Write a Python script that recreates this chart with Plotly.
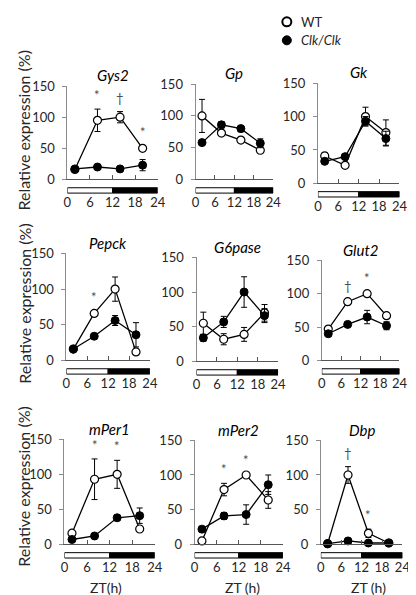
import plotly.graph_objects as go

W, H = 416, 595

# ---------------- data ----------------
zt = [2, 8, 14, 20]
x_ticks = [0, 6, 12, 18, 24]
x_ticklabels = ["0", "6", "12", "18", "24"]
y_ticks = [0, 50, 100, 150]
y_ticklabels = ["0", "50", "100", "150"]
light_phase = [0, 12]
dark_phase = [12, 24]

genes = ["Gys2", "Gp", "Gk", "Pepck", "G6pase", "Glut2", "mPer1", "mPer2", "Dbp"]
legend_labels = ["WT", "<i>Clk/Clk</i>"]

gys2_wt = [16, 95, 100, 50]
gys2_wt_err = [2, 18, 9, 4]
gys2_clk = [17, 20, 17, 23]
gys2_clk_err = [2, 2, 2, 9]
gys2_sig = ["", "*", "†", "*"]

gp_wt = [100, 73, 62, 46]
gp_wt_err = [26, 4, 4, 2]
gp_clk = [58, 86, 80, 57]
gp_clk_err = [3, 5, 5, 7]
gp_sig = ["", "", "", ""]

gk_wt = [41, 27, 100, 76]
gk_wt_err = [5, 2, 14, 19]
gk_clk = [33, 40, 93, 67]
gk_clk_err = [3, 3, 7, 11]
gk_sig = ["", "", "", ""]

pepck_wt = [16, 66, 100, 12]
pepck_wt_err = [2, 3, 17, 2]
pepck_clk = [16, 34, 56, 36]
pepck_clk_err = [2, 2, 7, 17]
pepck_sig = ["", "*", "", ""]

g6pase_wt = [55, 32, 39, 70]
g6pase_wt_err = [16, 8, 10, 12]
g6pase_clk = [34, 57, 100, 66]
g6pase_clk_err = [5, 8, 22, 10]
g6pase_sig = ["", "", "", ""]

glut2_wt = [47, 88, 100, 67]
glut2_wt_err = [4, 2, 2, 4]
glut2_clk = [40, 54, 65, 52]
glut2_clk_err = [2, 3, 10, 6]
glut2_sig = ["", "†", "*", ""]

mper1_wt = [16, 93, 100, 22]
mper1_wt_err = [3, 29, 20, 2]
mper1_clk = [7, 12, 38, 41]
mper1_clk_err = [1, 1, 4, 11]
mper1_sig = ["", "*", "*", ""]

mper2_wt = [5, 79, 100, 64]
mper2_wt_err = [1, 9, 1, 12]
mper2_clk = [22, 41, 43, 86]
mper2_clk_err = [1, 5, 14, 14]
mper2_sig = ["", "*", "*", ""]

dbp_wt = [1, 100, 16, 2]
dbp_wt_err = [0, 12, 6, 1]
dbp_clk = [1, 5, 2, 2]
dbp_clk_err = [0, 2, 0, 0]
dbp_sig = ["", "†", "*", ""]

series = {
    "Gys2": (gys2_wt, gys2_wt_err, gys2_clk, gys2_clk_err, gys2_sig),
    "Gp": (gp_wt, gp_wt_err, gp_clk, gp_clk_err, gp_sig),
    "Gk": (gk_wt, gk_wt_err, gk_clk, gk_clk_err, gk_sig),
    "Pepck": (pepck_wt, pepck_wt_err, pepck_clk, pepck_clk_err, pepck_sig),
    "G6pase": (g6pase_wt, g6pase_wt_err, g6pase_clk, g6pase_clk_err, g6pase_sig),
    "Glut2": (glut2_wt, glut2_wt_err, glut2_clk, glut2_clk_err, glut2_sig),
    "mPer1": (mper1_wt, mper1_wt_err, mper1_clk, mper1_clk_err, mper1_sig),
    "mPer2": (mper2_wt, mper2_wt_err, mper2_clk, mper2_clk_err, mper2_sig),
    "Dbp": (dbp_wt, dbp_wt_err, dbp_clk, dbp_clk_err, dbp_sig),
}

# ---------------- layout (pixel boxes of each panel) ----------------
boxes = {
    "Gys2": ((57, 150), (72, 168)),
    "Gp": ((189, 269), (70, 168)),
    "Gk": ((315, 399), (69, 172)),
    "Pepck": ((56, 142), (244, 354)),
    "G6pase": ((190, 274), (248, 355)),
    "Glut2": ((319, 399), (251, 354)),
    "mPer1": ((54, 147), (435, 543)),
    "mPer2": ((188, 279), (436, 543)),
    "Dbp": ((318, 402), (436, 543)),
}

FONT = "Lato, 'Open Sans', sans-serif"
AXIS_GREY = "#8c8c8c"
TXT = "#262626"

fig = go.Figure()
layout = dict(
    width=W, height=H,
    margin=dict(l=0, r=0, t=0, b=0),
    paper_bgcolor="white", plot_bgcolor="white",
    font=dict(family=FONT, color=TXT, size=13),
    showlegend=False,
)
annotations = []
shapes = []

for i, g in enumerate(genes):
    n = "" if i == 0 else str(i + 1)
    xa, ya = "x" + n, "y" + n
    (px0, px1), (py0, py1) = boxes[g]
    layout["xaxis" + n] = dict(
        domain=[px0 / W, px1 / W], range=[0, 24], anchor=ya,
        tickvals=x_ticks, ticktext=x_ticklabels,
        ticks="inside", ticklen=4, tickcolor="#555555", tickwidth=1,
        showline=True, linecolor="#555555", linewidth=1,
        showgrid=False, zeroline=False, ticklabelstandoff=11,
        tickfont=dict(size=13, color=TXT), fixedrange=True,
    )
    layout["yaxis" + n] = dict(
        domain=[1 - py1 / H, 1 - py0 / H], range=[0, 150], anchor=xa,
        tickvals=y_ticks, ticktext=y_ticklabels,
        ticks="outside", ticklen=4, tickcolor=AXIS_GREY, tickwidth=1,
        showline=True, linecolor=AXIS_GREY, linewidth=1,
        showgrid=False, zeroline=False, ticklabelstandoff=5,
        tickfont=dict(size=13, color=TXT), fixedrange=True,
    )
    wt, wt_err, clk, clk_err, sig = series[g]
    fig.add_trace(go.Scatter(
        x=zt, y=wt, xaxis=xa, yaxis=ya, mode="lines+markers",
        line=dict(color="black", width=1.3),
        marker=dict(symbol="circle", size=8, color="white",
                    line=dict(color="black", width=1.2)),
        error_y=dict(type="data", array=wt_err, symmetric=True,
                     color="black", thickness=1, width=3),
        cliponaxis=False, name="WT",
    ))
    fig.add_trace(go.Scatter(
        x=zt, y=clk, xaxis=xa, yaxis=ya, mode="lines+markers",
        line=dict(color="black", width=1.3),
        marker=dict(symbol="circle", size=8, color="black",
                    line=dict(color="black", width=1)),
        error_y=dict(type="data", array=clk_err, symmetric=True,
                     color="black", thickness=1, width=3),
        cliponaxis=False, name="Clk/Clk",
    ))
    # light/dark bar under the x axis
    for ph, fill in ((light_phase, "white"), (dark_phase, "black")):
        shapes.append(dict(
            type="rect", xref=xa, yref="paper", x0=ph[0], x1=ph[1],
            y0=1 - (py1 + 8.5) / H, y1=1 - (py1 + 14) / H,
            fillcolor=fill, line=dict(color="black", width=1),
        ))
    # significance marks
    for xv, yv, e, s in zip(zt, wt, wt_err, sig):
        if s:
            annotations.append(dict(
                x=xv, y=yv + e, xref=xa, yref=ya, text=s, showarrow=False,
                yanchor="bottom", yshift=4,
                font=dict(size=13, color="#4d4d4d", family=FONT),
            ))
    # panel title
    annotations.append(dict(
        x=(px0 + px1) / 2 / W, y=1 - (py0 - 11) / H, xref="paper", yref="paper",
        text="<i>%s</i>" % g, showarrow=False, xanchor="center", yanchor="middle",
        font=dict(size=15, color="black", family=FONT),
    ))

# y axis titles (one per row)
for yc in (118, 296, 484):
    annotations.append(dict(
        x=12 / W, y=1 - yc / H, xref="paper", yref="paper",
        text="Relative expression (%)", textangle=-90, showarrow=False,
        xanchor="center", yanchor="middle",
        font=dict(size=16, color=TXT, family=FONT),
    ))

# x axis titles (bottom row)
for xc, t in ((97, "ZT(h)"), (237, "ZT (h)"), (367, "ZT (h)")):
    annotations.append(dict(
        x=xc / W, y=1 - 587 / H, xref="paper", yref="paper",
        text=t, showarrow=False, xanchor="center", yanchor="middle",
        font=dict(size=14, color=TXT, family=FONT),
    ))

# legend (marker symbols + labels)
for k, (lab, fill) in enumerate(zip(legend_labels, ["white", "black"])):
    yc = 6 + 19 * k
    shapes.append(dict(
        type="circle", xref="paper", yref="paper",
        xsizemode="pixel", ysizemode="pixel",
        xanchor=283 / W, yanchor=1 - yc / H,
        x0=-4.5, x1=4.5, y0=-4.5, y1=4.5,
        fillcolor=fill, line=dict(color="black", width=2 if fill == "white" else 1),
    ))
    annotations.append(dict(
        x=296 / W, y=1 - yc / H, xref="paper", yref="paper",
        text=lab, showarrow=False, xanchor="left", yanchor="middle",
        font=dict(size=13, color=TXT, family=FONT),
    ))

layout["annotations"] = annotations
layout["shapes"] = shapes
fig.update_layout(**layout)

fig.write_html("out.html")
